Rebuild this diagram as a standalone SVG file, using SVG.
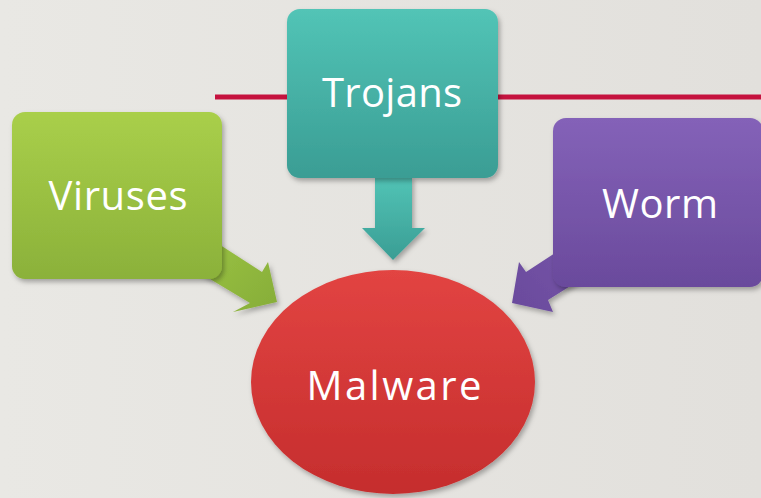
<svg xmlns="http://www.w3.org/2000/svg" width="761" height="498" viewBox="0 0 761 498">
<defs>
<linearGradient id="bg" x1="0" y1="0" x2="1" y2="0"><stop offset="0" stop-color="#e9e8e4"/><stop offset="1" stop-color="#e2e0dc"/></linearGradient>
<linearGradient id="gTeal" x1="0" y1="0" x2="0" y2="1"><stop offset="0" stop-color="#52c4b6"/><stop offset="1" stop-color="#3a9d94"/></linearGradient>
<linearGradient id="gGreen" x1="0" y1="0" x2="0" y2="1"><stop offset="0" stop-color="#a9cf4a"/><stop offset="1" stop-color="#8bb13a"/></linearGradient>
<linearGradient id="gGreenA" x1="0" y1="0" x2="1" y2="1"><stop offset="0" stop-color="#9cc444"/><stop offset="1" stop-color="#86ad38"/></linearGradient>
<linearGradient id="gPurple" x1="0" y1="0" x2="0" y2="1"><stop offset="0" stop-color="#8462b8"/><stop offset="1" stop-color="#6a4a9c"/></linearGradient>
<linearGradient id="gPurpleA" x1="1" y1="0" x2="0" y2="1"><stop offset="0" stop-color="#7555a8"/><stop offset="1" stop-color="#6a4a9c"/></linearGradient>
<linearGradient id="gRed" x1="0" y1="0" x2="0" y2="1"><stop offset="0" stop-color="#e24442"/><stop offset="1" stop-color="#c52d2d"/></linearGradient>
<filter id="sh" x="-10%" y="-10%" width="125%" height="125%"><feDropShadow dx="2" dy="3" stdDeviation="2.5" flood-color="#000" flood-opacity="0.3"/></filter>
</defs>
<style>
.lbl{font-family:"Open Sans","Noto Sans",sans-serif;font-size:40px;fill:#ffffff;text-anchor:middle}
.box{filter:url(#sh)}
</style>
<rect width="761" height="498" fill="url(#bg)"/>
<line x1="215" y1="97" x2="761" y2="97" stroke="#c5123e" stroke-width="5"/>
<g id="connectors">
<polygon class="box" points="200,232 262,272 268,262 277,302 233,312 250,303 195,270" fill="url(#gGreenA)"/>
<polygon class="box" points="575,240 526,272 519,262 512,303 553,312 548,300 580,280" fill="url(#gPurpleA)"/>
<polygon class="box" points="375,176 412,176 412,228 425,228 393,260 362,228 375,228" fill="url(#gTeal)"/>
</g>
<g id="trojans">
<rect class="box" x="287" y="9" width="211" height="169" rx="13" fill="url(#gTeal)"/>
<text class="lbl" x="392" y="107" textLength="140">Trojans</text>
</g>
<g id="viruses">
<rect class="box" x="12" y="112" width="210" height="167" rx="13" fill="url(#gGreen)"/>
<text class="lbl" x="118" y="210" textLength="139">Viruses</text>
</g>
<g id="worm">
<rect class="box" x="553" y="118" width="210" height="169" rx="13" fill="url(#gPurple)"/>
<text class="lbl" x="660" y="218" textLength="116">Worm</text>
</g>
<g id="malware">
<ellipse class="box" cx="393" cy="382" rx="142" ry="112" fill="url(#gRed)"/>
<text class="lbl" x="394" y="400" textLength="175">Malware</text>
</g>
</svg>
